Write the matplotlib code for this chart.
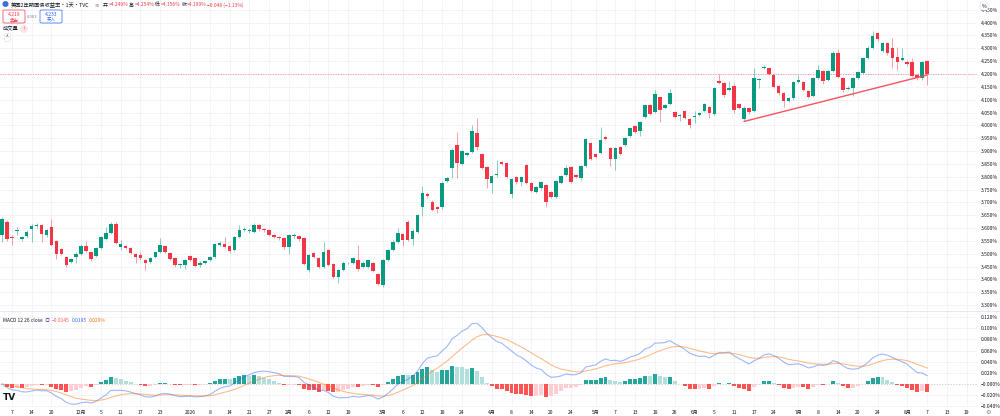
import numpy as np
import pandas as pd
import matplotlib
matplotlib.use("Agg")
import matplotlib.pyplot as plt
from matplotlib.patches import FancyBboxPatch
from matplotlib.transforms import blended_transform_factory

plt.rcParams['font.family'] = ['Noto Sans CJK SC', 'DejaVu Sans']
plt.rcParams['axes.unicode_minus'] = True

# daily OHLC, US 2Y yield (%)
opens = [3.573, 3.625, 3.563, 3.590, 3.557, 3.569, 3.595, 3.607, 3.611, 3.573,
         3.605, 3.549, 3.517, 3.486, 3.469, 3.488, 3.499, 3.531, 3.508, 3.492,
         3.521, 3.556, 3.579, 3.616, 3.527, 3.528, 3.521, 3.498, 3.495, 3.475,
         3.468, 3.486, 3.508, 3.530, 3.504, 3.482, 3.456, 3.456, 3.491, 3.482,
         3.456, 3.465, 3.475, 3.488, 3.534, 3.536, 3.530, 3.514, 3.566, 3.592,
         3.588, 3.586, 3.612, 3.598, 3.592, 3.573, 3.566, 3.562, 3.525, 3.567,
         3.569, 3.560, 3.436, 3.501, 3.482, 3.450, 3.514, 3.460, 3.410, 3.438,
         3.462, 3.465, 3.475, 3.447, 3.447, 3.465, 3.420, 3.378, 3.475, 3.514,
         3.547, 3.577, 3.625, 3.556, 3.586, 3.683, 3.731, 3.703, 3.680, 3.680,
         3.783, 3.832, 3.923, 3.849, 3.885, 3.897, 3.971, 3.888, 3.836, 3.774,
         3.806, 3.856, 3.852, 3.732, 3.797, 3.780, 3.845, 3.774, 3.741, 3.754,
         3.767, 3.741, 3.722, 3.776, 3.806, 3.836, 3.806, 3.793, 3.840, 3.933,
         3.887, 3.891, 3.953, 3.910, 3.867, 3.914, 3.923, 3.958, 3.997, 3.979,
         4.031, 4.079, 4.053, 4.109, 4.066, 4.083, 4.053, 4.038, 4.057, 4.023,
         4.032, 4.040, 4.057, 4.070, 4.043, 4.173, 4.164, 4.138, 4.155, 4.082,
         4.023, 4.069, 4.056, 4.177, 4.222, 4.225, 4.196, 4.155, 4.125, 4.095,
         4.105, 4.170, 4.170, 4.134, 4.116, 4.186, 4.212, 4.177, 4.212, 4.281,
         4.183, 4.141, 4.147, 4.183, 4.203, 4.261, 4.303, 4.358, 4.290, 4.320,
         4.300, 4.268, 4.255, 4.248, 4.248, 4.196, 4.183, 4.249]
highs = [3.642, 3.632, 3.573, 3.605, 3.570, 3.592, 3.614, 3.618, 3.615, 3.598,
         3.637, 3.553, 3.522, 3.490, 3.483, 3.508, 3.536, 3.549, 3.512, 3.525,
         3.568, 3.605, 3.622, 3.625, 3.553, 3.532, 3.525, 3.503, 3.508, 3.480,
         3.488, 3.512, 3.560, 3.535, 3.508, 3.486, 3.462, 3.480, 3.496, 3.486,
         3.470, 3.477, 3.490, 3.540, 3.548, 3.566, 3.534, 3.570, 3.612, 3.605,
         3.600, 3.618, 3.616, 3.602, 3.596, 3.577, 3.570, 3.566, 3.578, 3.582,
         3.573, 3.564, 3.500, 3.506, 3.486, 3.547, 3.518, 3.464, 3.440, 3.470,
         3.468, 3.488, 3.533, 3.470, 3.480, 3.469, 3.424, 3.480, 3.520, 3.552,
         3.599, 3.582, 3.630, 3.595, 3.655, 3.764, 3.742, 3.708, 3.684, 3.782,
         3.797, 3.910, 3.973, 3.905, 3.898, 4.001, 4.027, 3.892, 3.840, 3.808,
         3.865, 3.862, 3.856, 3.795, 3.801, 3.802, 3.849, 3.778, 3.762, 3.784,
         3.771, 3.745, 3.788, 3.806, 3.845, 3.840, 3.810, 3.845, 3.950, 3.937,
         3.891, 3.995, 3.957, 3.914, 3.914, 3.918, 3.953, 3.992, 4.001, 4.018,
         4.083, 4.083, 4.138, 4.113, 4.083, 4.140, 4.057, 4.044, 4.061, 4.027,
         4.055, 4.051, 4.087, 4.074, 4.148, 4.199, 4.168, 4.173, 4.165, 4.088,
         4.075, 4.073, 4.222, 4.186, 4.235, 4.229, 4.200, 4.159, 4.129, 4.110,
         4.172, 4.196, 4.174, 4.138, 4.190, 4.235, 4.216, 4.216, 4.290, 4.298,
         4.187, 4.152, 4.187, 4.213, 4.265, 4.310, 4.368, 4.362, 4.324, 4.324,
         4.339, 4.307, 4.303, 4.255, 4.262, 4.200, 4.250, 4.254]
lows = [3.547, 3.550, 3.534, 3.573, 3.550, 3.562, 3.545, 3.600, 3.545, 3.566,
        3.530, 3.480, 3.494, 3.448, 3.462, 3.465, 3.495, 3.508, 3.470, 3.488,
        3.517, 3.552, 3.575, 3.536, 3.514, 3.517, 3.500, 3.462, 3.475, 3.436,
        3.464, 3.482, 3.504, 3.504, 3.474, 3.450, 3.445, 3.440, 3.470, 3.448,
        3.450, 3.460, 3.470, 3.484, 3.530, 3.523, 3.504, 3.510, 3.562, 3.588,
        3.580, 3.582, 3.590, 3.586, 3.568, 3.562, 3.555, 3.520, 3.500, 3.562,
        3.550, 3.455, 3.430, 3.483, 3.445, 3.445, 3.451, 3.405, 3.385, 3.434,
        3.458, 3.461, 3.434, 3.443, 3.443, 3.429, 3.378, 3.372, 3.470, 3.510,
        3.543, 3.530, 3.548, 3.534, 3.582, 3.648, 3.715, 3.665, 3.657, 3.676,
        3.779, 3.793, 3.793, 3.845, 3.880, 3.893, 3.905, 3.828, 3.755, 3.735,
        3.800, 3.845, 3.796, 3.715, 3.770, 3.765, 3.770, 3.740, 3.737, 3.750,
        3.680, 3.718, 3.718, 3.772, 3.802, 3.776, 3.795, 3.789, 3.836, 3.864,
        3.874, 3.887, 3.941, 3.840, 3.825, 3.884, 3.919, 3.954, 3.971, 3.960,
        4.027, 4.040, 4.049, 4.014, 4.062, 4.079, 4.030, 4.018, 4.023, 3.990,
        4.010, 4.036, 4.053, 4.030, 4.039, 4.160, 4.110, 4.134, 4.050, 4.062,
        4.015, 4.045, 4.052, 4.145, 4.218, 4.195, 4.145, 4.119, 4.070, 4.090,
        4.100, 4.165, 4.132, 4.106, 4.112, 4.182, 4.160, 4.173, 4.208, 4.185,
        4.128, 4.136, 4.116, 4.179, 4.199, 4.257, 4.299, 4.330, 4.284, 4.275,
        4.222, 4.216, 4.250, 4.232, 4.188, 4.178, 4.178, 4.156]
closes = [3.634, 3.556, 3.562, 3.594, 3.566, 3.586, 3.608, 3.611, 3.577, 3.592,
          3.534, 3.499, 3.499, 3.456, 3.478, 3.499, 3.531, 3.512, 3.480, 3.521,
          3.564, 3.579, 3.616, 3.540, 3.536, 3.521, 3.504, 3.486, 3.482, 3.462,
          3.484, 3.508, 3.534, 3.508, 3.478, 3.456, 3.457, 3.475, 3.475, 3.452,
          3.465, 3.473, 3.486, 3.536, 3.543, 3.527, 3.512, 3.566, 3.592, 3.598,
          3.590, 3.612, 3.595, 3.592, 3.573, 3.566, 3.560, 3.525, 3.573, 3.573,
          3.556, 3.460, 3.495, 3.488, 3.450, 3.508, 3.456, 3.410, 3.436, 3.465,
          3.463, 3.482, 3.439, 3.465, 3.475, 3.434, 3.382, 3.475, 3.514, 3.547,
          3.582, 3.553, 3.553, 3.590, 3.650, 3.738, 3.725, 3.670, 3.675, 3.777,
          3.793, 3.904, 3.852, 3.901, 3.894, 3.979, 3.914, 3.832, 3.790, 3.802,
          3.806, 3.849, 3.800, 3.790, 3.780, 3.797, 3.774, 3.745, 3.758, 3.780,
          3.703, 3.722, 3.784, 3.802, 3.832, 3.780, 3.800, 3.841, 3.946, 3.868,
          3.878, 3.943, 3.945, 3.867, 3.910, 3.888, 3.949, 3.988, 3.975, 4.014,
          4.079, 4.044, 4.122, 4.060, 4.079, 4.125, 4.034, 4.040, 4.027, 4.001,
          4.034, 4.047, 4.083, 4.047, 4.144, 4.164, 4.118, 4.147, 4.060, 4.069,
          4.069, 4.053, 4.183, 4.180, 4.229, 4.199, 4.151, 4.125, 4.095, 4.105,
          4.168, 4.177, 4.138, 4.112, 4.186, 4.216, 4.173, 4.212, 4.281, 4.190,
          4.138, 4.147, 4.183, 4.209, 4.261, 4.303, 4.349, 4.336, 4.320, 4.281,
          4.261, 4.248, 4.261, 4.238, 4.193, 4.183, 4.245, 4.199]

last_day = "2026-08-07"
holidays = ["2025-11-11", "2025-11-27", "2025-12-25", "2026-01-01", "2026-01-19",
            "2026-02-16", "2026-04-03", "2026-05-25", "2026-06-19", "2026-07-03"]

tick_dates = ["2025-11-07", "2025-11-14", "2025-11-20", "2025-12-01", "2025-12-05",
              "2025-12-11", "2025-12-17", "2025-12-23", "2026-01-02", "2026-01-08",
              "2026-01-14", "2026-01-21", "2026-01-27", "2026-02-02", "2026-02-06",
              "2026-02-12", "2026-02-19", "2026-03-02", "2026-03-06", "2026-03-12",
              "2026-03-18", "2026-03-24", "2026-04-01", "2026-04-08", "2026-04-14",
              "2026-04-20", "2026-04-24", "2026-05-01", "2026-05-07", "2026-05-13",
              "2026-05-19", "2026-05-26", "2026-06-01", "2026-06-05", "2026-06-11",
              "2026-06-17", "2026-06-24", "2026-07-01", "2026-07-08", "2026-07-14",
              "2026-07-20", "2026-07-24", "2026-08-03", "2026-08-07", "2026-08-13",
              "2026-08-19"]
tick_labels = ["7", "14", "20", "12月", "5", "11", "17", "23", "2026", "8",
               "14", "21", "27", "2月", "6", "12", "19", "3月", "6", "12",
               "18", "24", "4月", "8", "14", "20", "24", "5月", "7", "13",
               "19", "26", "6月", "5", "11", "17", "24", "7月", "8", "14",
               "20", "24", "8月", "7", "13", "19"]

price_ticks = [3.30, 3.35, 3.40, 3.45, 3.50, 3.55, 3.60, 3.65, 3.70, 3.75, 3.80,
               3.85, 3.90, 3.95, 4.00, 4.05, 4.10, 4.15, 4.20, 4.25, 4.30, 4.35,
               4.40, 4.45]
macd_ticks = [-0.04, -0.02, 0.0, 0.02, 0.04, 0.06, 0.08, 0.10, 0.12]

# trend line drawn on the chart: (bar index, yield)
trend_pts = [(150, 4.015), (187, 4.196)]

GREEN = "#089981"
RED = "#F23645"
GRID = "#f0f2f6"
TXT = "#131722"
FS = 3.6

# trading-day calendar -> bar positions
cal = pd.bdate_range("2025-10-01", "2026-09-30")
cal = cal[~cal.isin(pd.to_datetime(holidays))]
end_pos = cal.get_loc(pd.Timestamp(last_day))
n = len(closes)
days = cal[end_pos - n + 1:]
tick_pos = [days.get_indexer([pd.Timestamp(d)], method="bfill")[0] for d in tick_dates]

o = np.array(opens); h = np.array(highs); l = np.array(lows); c = np.array(closes)
x = np.arange(n)

fig = plt.figure(figsize=(10, 4.16), dpi=100)
fig.patch.set_facecolor("white")


def fx(px):
    return px / 1000


def fy(py):
    return 1 - py / 416


ax = fig.add_axes([0, fy(310), 0.977, fy(0) - fy(310)])
axm = fig.add_axes([0, fy(407), 0.977, fy(311) - fy(407)], sharex=ax)

ax.set_xlim(-0.4, 197.1)
ax.set_ylim(3.2806, 4.4883)

# candles
up = c >= o
cols = np.where(up, GREEN, RED)
ax.vlines(x, l, h, colors=cols, lw=0.6, alpha=0.55, zorder=2)
body_lo = np.minimum(o, c)
body_h = np.maximum(np.abs(c - o), 0.003)
ax.bar(x, body_h, bottom=body_lo, width=0.72, color=cols, lw=0, zorder=3)

# last price line + trend line
ax.axhline(c[-1], color=RED, lw=0.6, ls=(0, (1.5, 1.5)), alpha=0.55, zorder=1)
ax.plot([p[0] for p in trend_pts], [p[1] for p in trend_pts], color="#F7525F",
        lw=1.0, zorder=4, solid_capstyle="round")

# MACD (12, 26, 9) from closes
cs = pd.Series(c)
macd = cs.ewm(span=12, adjust=False).mean() - cs.ewm(span=26, adjust=False).mean()
signal = macd.ewm(span=9, adjust=False).mean()
hist = (macd - signal).values
prev = np.concatenate([[0.0], hist[:-1]])
hcols = []
for hv, pv in zip(hist, prev):
    if hv >= 0:
        hcols.append("#26A69A" if hv > pv else "#B2DFDB")
    else:
        hcols.append("#FF5252" if hv < pv else "#FFCDD2")
axm.bar(x, hist, width=0.8, color=hcols, lw=0, zorder=2)
axm.plot(x, macd.values, color="#2962FF", lw=0.8, alpha=0.45, zorder=3)
axm.plot(x, signal.values, color="#FF6D00", lw=0.8, alpha=0.45, zorder=3)
axm.axhline(0, color="#9598a1", lw=0.5, ls=(0, (2, 2)), alpha=0.6, zorder=1)
axm.set_ylim(-0.0412, 0.1308)

for a in (ax, axm):
    a.set_facecolor("white")
    for s in a.spines.values():
        s.set_visible(False)
    a.yaxis.tick_right()
    a.tick_params(axis="y", length=0, pad=2.5, labelsize=FS, labelcolor=TXT)
    a.tick_params(axis="x", length=0, labelbottom=False)
    for tp in tick_pos:
        a.axvline(tp, color=GRID, lw=0.6, zorder=0)

ax.set_yticks(price_ticks)
ax.set_yticklabels([f"{v:.3f}%" for v in price_ticks])
for v in price_ticks:
    ax.axhline(v, color=GRID, lw=0.6, zorder=0)

axm.set_yticks(macd_ticks)
axm.set_yticklabels(["\u2212" + f"{abs(v):.3f}%" if v <= 0 else f"{v:.3f}%" for v in macd_ticks])
for v in macd_ticks:
    if v != 0:
        axm.axhline(v, color=GRID, lw=0.6, zorder=0)

# time axis labels, all on one baseline
tr = blended_transform_factory(axm.transData, fig.transFigure)
for tp, lab in zip(tick_pos, tick_labels):
    axm.text(tp, fy(413.5), lab, transform=tr, fontsize=FS, color=TXT,
             ha="center", va="baseline", clip_on=False)

# pane separator
fig.add_artist(plt.Line2D([0, 1], [fy(310.5), fy(310.5)], color="#e0e3eb", lw=0.6))

# header texts
renderer = fig.canvas.get_renderer()


def run_text(x0, y0, pieces, size, gap=1.5):
    xx = x0
    for txt, col in pieces:
        t = fig.text(fx(xx), fy(y0), txt, color=col, fontsize=size, va="center", ha="left")
        bb = t.get_window_extent(renderer=renderer)
        xx += bb.width + gap


fig.text(fx(2), fy(5), "●", color="#3f6fd1", fontsize=5, va="center")
run_text(10.5, 5, [("美国2年期国债收益率・1天・TVC", TXT)], 3.8)
fig.text(fx(94), fy(5), "≋", color="#787b86", fontsize=3.8, va="center")
run_text(103, 5, [("开", TXT), ("=4.249%", RED), ("高", TXT), ("=4.254%", RED),
                  ("低", TXT), ("=4.156%", RED), ("收", TXT), ("=4.199%", RED),
                  ("\u22120.048 (\u22121.13%)", RED)], 3.5, gap=0.8)

for (bx, col, val, word) in [(3, RED, "4.219", "卖出"), (40, "#2962FF", "4.233", "买入")]:
    fig.add_artist(FancyBboxPatch((fx(bx), fy(23)), fx(22), fy(10) - fy(23),
                                  boxstyle="round,pad=0,rounding_size=0.002",
                                  transform=fig.transFigure, fc="white", ec=col, lw=0.5))
    fig.text(fx(bx + 11), fy(14), val, color=col, fontsize=3.6, ha="center", va="center")
    fig.text(fx(bx + 11), fy(19.5), word, color=col, fontsize=3.2, ha="center", va="center")
fig.text(fx(32.5), fy(16.5), "0.003", color="#787b86", fontsize=3.0, ha="center", va="center")

fig.text(fx(3), fy(29), "成交量", color=TXT, fontsize=3.8, va="center")
fig.text(fx(24), fy(29), "!", color=RED, fontsize=3.8, va="center", ha="center",
         bbox=dict(boxstyle="circle,pad=0.25", fc="#fde3e6", ec="none"))
fig.text(fx(7.5), fy(37.5), "^", color=TXT, fontsize=3.6, va="center", ha="center",
         bbox=dict(boxstyle="round,pad=0.3", fc="white", ec="#e0e3eb", lw=0.5))

# MACD legend
run_text(3, 320, [("MACD 12 26 close", TXT)], 3.5)
fig.text(fx(45), fy(320), "◎", color="#7e57c2", fontsize=3.8, va="center")
run_text(52, 320, [("\u22120.0145", "#FF5252"), ("0.0195", "#2962FF"),
                   ("0.029%", "#FF6D00")], 3.5, gap=2)

fig.text(fx(984), fy(6), "%", color=TXT, fontsize=3.6, va="center", ha="center",
         bbox=dict(boxstyle="round,pad=0.3", fc="white", ec="#e0e3eb", lw=0.5))
fig.text(fx(3), fy(398), "TV", color=TXT, fontsize=6.5, fontweight="heavy", va="center",
         family="DejaVu Sans")
fig.text(fx(988), fy(412), "⚙", color="#787b86", fontsize=4.5, va="center", ha="center",
         family="DejaVu Sans")

fig.savefig("out.png", dpi=100, facecolor="white")
